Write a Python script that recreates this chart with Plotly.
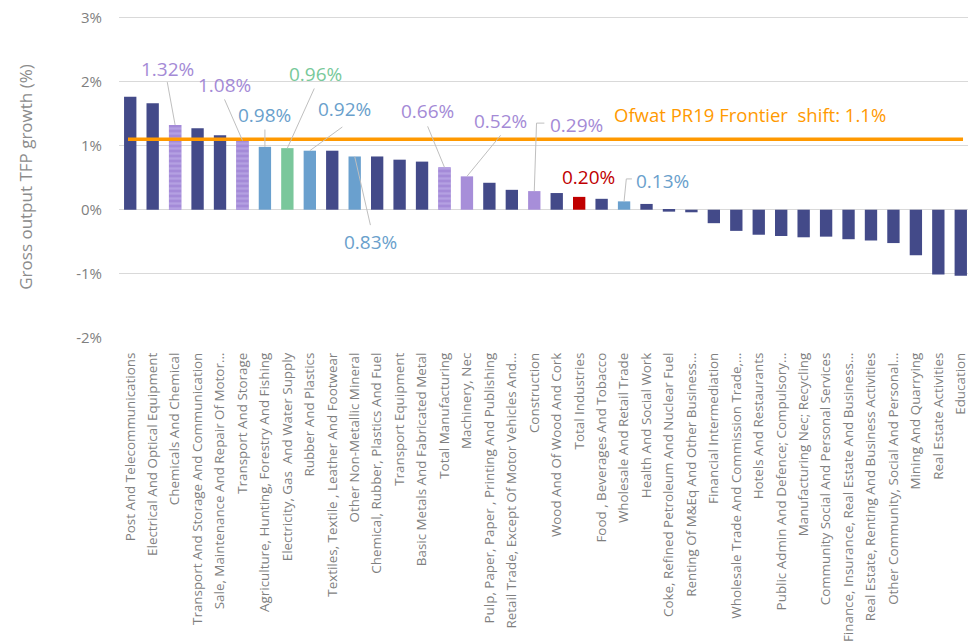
import plotly.graph_objects as go

categories = [
    "Post And Telecommunications",
    "Electrical And Optical Equipment",
    "Chemicals And Chemical",
    "Transport And Storage And Communication",
    "Sale, Maintenance And Repair Of Motor…",
    "Transport And Storage",
    "Agriculture, Hunting, Forestry And Fishing",
    "Electricity, Gas  And Water Supply",
    "Rubber And Plastics",
    "Textiles, Textile , Leather And Footwear",
    "Other Non-Metallic Mineral",
    "Chemical, Rubber, Plastics And Fuel",
    "Transport Equipment",
    "Basic Metals And Fabricated Metal",
    "Total Manufacturing",
    "Machinery, Nec",
    "Pulp, Paper, Paper , Printing And Publishing",
    "Retail Trade, Except Of Motor Vehicles And…",
    "Construction",
    "Wood And Of Wood And Cork",
    "Total Industries",
    "Food , Beverages And Tobacco",
    "Wholesale And Retail Trade",
    "Health And Social Work",
    "Coke, Refined Petroleum And Nuclear Fuel",
    "Renting Of M&Eq And Other Business…",
    "Financial Intermediation",
    "Wholesale Trade And Commission Trade,…",
    "Hotels And Restaurants",
    "Public Admin And Defence; Compulsory…",
    "Manufacturing Nec; Recycling",
    "Community Social And Personal Services",
    "Finance, Insurance, Real Estate And Business…",
    "Real Estate, Renting And Business Activities",
    "Other Community, Social And Personal…",
    "Mining And Quarrying",
    "Real Estate Activities",
    "Education",
]

tfp_growth = [
    1.76, 1.66, 1.32, 1.27, 1.16, 1.08, 0.98, 0.96, 0.92, 0.92,
    0.83, 0.83, 0.78, 0.75, 0.66, 0.52, 0.42, 0.31, 0.29, 0.26,
    0.20, 0.17, 0.13, 0.09, -0.03, -0.04, -0.21, -0.33, -0.39, -0.41,
    -0.43, -0.42, -0.46, -0.48, -0.52, -0.71, -1.01, -1.03,
]

# colour group of each bar
groups = [
    "navy", "navy", "stripe", "navy", "navy", "stripe", "blue", "green", "blue", "navy",
    "blue", "navy", "navy", "navy", "stripe", "purple", "navy", "navy", "purple", "navy",
    "red", "navy", "blue", "navy", "navy", "navy", "navy", "navy", "navy", "navy",
    "navy", "navy", "navy", "navy", "navy", "navy", "navy", "navy",
]

frontier_shift = 1.1
frontier_label = "Ofwat PR19 Frontier  shift: 1.1%"

# labelled bars: (bar index, text, colour group)
labelled = [
    (2, "1.32%", "purple"), (5, "1.08%", "purple"), (6, "0.98%", "blue"),
    (7, "0.96%", "green"), (8, "0.92%", "blue"), (10, "0.83%", "blue"),
    (14, "0.66%", "purple"), (15, "0.52%", "purple"), (18, "0.29%", "purple"),
    (20, "0.20%", "red"), (22, "0.13%", "blue"),
]

y_ticks = [-2, -1, 0, 1, 2, 3]

colors = {
    "navy": "#434A89",
    "purple": "#A78ED9",
    "stripe": "#A48AD8",
    "blue": "#6AA0CE",
    "green": "#7AC79B",
    "red": "#C00000",
}
text_colors = {
    "purple": "#A48AD6",
    "blue": "#6A9FCC",
    "green": "#78C99A",
    "red": "#C00000",
}

x = list(range(len(categories)))

fig = go.Figure()
fig.add_trace(go.Bar(
    x=x, y=tfp_growth,
    marker=dict(color=[colors[g] for g in groups], line=dict(width=0)),
    width=0.55,
    showlegend=False,
    hoverinfo="x+y",
))

# striped (hatched) bars drawn on top with a horizontal-line pattern
stripe_y = [v if g == "stripe" else None for v, g in zip(tfp_growth, groups)]
fig.add_trace(go.Bar(
    x=x, y=stripe_y,
    marker=dict(
        color="#A48AD8",
        line=dict(width=0),
        pattern=dict(
            shape="-",
            fgcolor="#B4A0E2",
            bgcolor="#A48AD8",
            size=5,
            solidity=0.45,
            fillmode="replace",
        ),
    ),
    width=0.55,
    showlegend=False,
    hoverinfo="skip",
))

fig.add_trace(go.Scatter(
    x=[x[0] - 0.1, x[-1] + 0.1], y=[frontier_shift, frontier_shift],
    mode="lines", line=dict(color="#FF9900", width=3.5),
    showlegend=False, hoverinfo="skip",
))

# label positions (category units, value units) and leader lines
label_pos = {
    2: (1.65, 2.19, [(1.65, 1.99)]),
    5: (4.22, 1.94, [(4.2, 1.72)]),
    6: (5.98, 1.47, [(6.0, 1.25)]),
    7: (8.25, 2.11, [(8.2, 1.89)]),
    8: (9.55, 1.57, [(9.45, 1.29)]),
    10: (10.7, -0.5, [(10.7, -0.24)]),
    14: (13.25, 1.54, [(13.25, 1.30)]),
    15: (16.5, 1.38, [(16.5, 1.16)]),
    18: (19.9, 1.32, [(18.45, 1.35), (18.1, 1.35)]),
    20: (20.4, 0.51, []),
    22: (23.7, 0.45, [(22.35, 0.48), (22.1, 0.48)]),
}

for idx, txt, grp in labelled:
    lx, ly, pts = label_pos[idx]
    fig.add_annotation(
        x=lx, y=ly, text=txt, showarrow=False,
        xanchor="center", yanchor="middle",
        font=dict(family="Open Sans", size=19, color=text_colors[grp]),
    )
    if pts:
        path_pts = pts + [(idx, tfp_growth[idx])]
        for (x0, y0), (x1, y1) in zip(path_pts[:-1], path_pts[1:]):
            fig.add_shape(type="line", xref="x", yref="y",
                          x0=x0, y0=y0, x1=x1, y1=y1,
                          line=dict(color="#BFBFBF", width=1))

fig.add_annotation(
    x=27.6, y=1.49, text=frontier_label, showarrow=False,
    xanchor="center", yanchor="middle",
    font=dict(family="Open Sans", size=18.5, color="#FF9900"),
)

# the page body adds an 8px offset, so the figure is sized to compensate
fig.update_layout(
    width=968, height=635,
    margin=dict(l=111, r=4, t=8, b=305),
    paper_bgcolor="white", plot_bgcolor="white",
    font=dict(family="Open Sans", color="#7F7F7F"),
    barmode="overlay",
)
fig.update_xaxes(
    tickmode="array", tickvals=x, ticktext=categories,
    tickangle=-90, tickfont=dict(size=13.4, color="#7F7F7F"),
    range=[-0.5, len(categories) - 0.5],
    showgrid=False, showline=False, ticks="", automargin=False,
    ticklabelstandoff=11,
)
fig.update_yaxes(
    range=[-2, 3.02], tickvals=y_ticks, ticktext=[f"{v}%" for v in y_ticks],
    tickfont=dict(size=15, color="#7F7F7F"),
    showgrid=True, gridcolor="#D9D9D9", gridwidth=1,
    zeroline=True, zerolinecolor="#D9D9D9", zerolinewidth=1,
    showline=False, ticks="", automargin=False,
    ticklabelstandoff=16, ticklabeloverflow="allow",
    title=dict(text="Gross output TFP growth (%)",
               font=dict(size=17, color="#8C8C8C"), standoff=39),
)

fig.write_html("out.html")
